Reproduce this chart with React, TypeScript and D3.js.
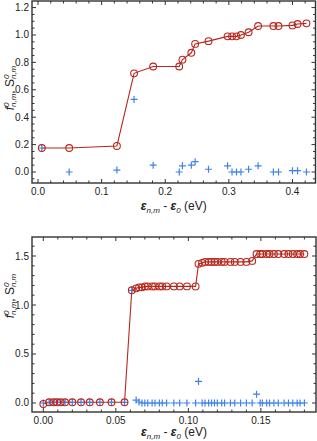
import React from 'react';
import * as d3 from 'd3';

const FONT = 'Liberation Sans, Arial, sans-serif';
const RED = '#b8261c';
const BLUE = '#3f82ea';

// top panel
const topE = [0.006, 0.049, 0.124, 0.151, 0.181, 0.222, 0.227, 0.241, 0.247, 0.268, 0.298, 0.305, 0.312, 0.319, 0.331, 0.346, 0.37, 0.378, 0.4, 0.408, 0.422];
const topF = [0.175, 0.175, 0.19, 0.72, 0.77, 0.77, 0.82, 0.87, 0.935, 0.955, 0.99, 0.99, 0.99, 1.0, 1.02, 1.065, 1.065, 1.065, 1.07, 1.08, 1.085];
const topS = [0.175, 0.0, 0.014, 0.53, 0.05, 0.0, 0.045, 0.05, 0.075, 0.02, 0.045, 0.0, 0.0, 0.0, 0.02, 0.045, 0.0, 0.0, 0.01, 0.01, 0.0];

// bottom panel
const botE = [
  0.0, 0.004, 0.007, 0.0095, 0.012, 0.015, 0.02, 0.026, 0.032, 0.039, 0.047, 0.056,
  0.061, 0.064, 0.066, 0.068, 0.07, 0.072, 0.075, 0.077, 0.08, 0.082, 0.085, 0.09, 0.094, 0.099, 0.105,
  0.107, 0.1095, 0.1115, 0.114, 0.116, 0.118, 0.12, 0.123, 0.125, 0.129, 0.132, 0.136, 0.14, 0.144,
  0.147, 0.1495, 0.151, 0.154, 0.156, 0.159, 0.162, 0.166, 0.169, 0.172, 0.175, 0.177, 0.18,
];
const botF = [
  -0.01, 0.007, 0.007, 0.007, 0.007, 0.007, 0.007, 0.007, 0.007, 0.007, 0.007, 0.007,
  1.15, 1.17, 1.18, 1.18, 1.19, 1.19, 1.19, 1.19, 1.19, 1.19, 1.19, 1.19, 1.19, 1.19, 1.19,
  1.42, 1.43, 1.44, 1.44, 1.44, 1.44, 1.44, 1.44, 1.44, 1.44, 1.44, 1.44, 1.44, 1.45,
  1.52, 1.52, 1.52, 1.52, 1.52, 1.52, 1.52, 1.52, 1.52, 1.52, 1.52, 1.52, 1.52,
];
const botS = [
  0.0, 0.007, 0.007, 0.007, 0.007, 0.007, 0.007, 0.007, 0.007, 0.007, 0.007, 0.007,
  1.15, 0.03, 0.01, 0.0, 0.0, 0.0, 0.0, 0.0, 0.0, 0.0, 0.0, 0.0, 0.0, 0.0, 0.0,
  0.22, 0.0, 0.0, 0.0, 0.0, 0.0, 0.0, 0.0, 0.0, 0.0, 0.0, 0.0, 0.0, 0.0,
  0.09, 0.0, 0.0, 0.0, 0.0, 0.0, 0.0, 0.0, 0.0, 0.0, 0.0, 0.0, 0.0,
];

const topXTicks = [0, 0.1, 0.2, 0.3, 0.4];
const topYTicks = [0, 0.2, 0.4, 0.6, 0.8, 1.0, 1.2];
const botXTicks = [0, 0.05, 0.1, 0.15];
const botYTicks = [0, 0.5, 1.0, 1.5];

type PanelProps = {
  box: { left: number; right: number; top: number; bottom: number };
  xDomain: [number, number];
  yDomain: [number, number];
  xTicks: number[];
  yTicks: number[];
  xMinor: number;
  yMinor: number;
  xFmt: (v: number) => string;
  yFmt: (v: number) => string;
  energy: number[];
  f: number[];
  s: number[];
  yLabelY: number;
  xLabelY: number;
};

const range = (a: number, b: number, step: number) => {
  const out: number[] = [];
  const n = Math.round((b - a) / step);
  for (let i = 0; i <= n; i++) out.push(a + i * step);
  return out;
};

const Panel = (p: PanelProps) => {
  const { box } = p;
  const x = d3.scaleLinear().domain(p.xDomain).range([box.left, box.right]);
  const y = d3.scaleLinear().domain(p.yDomain).range([box.bottom, box.top]);

  const xMinors = range(Math.ceil(p.xDomain[0] / p.xMinor) * p.xMinor, p.xDomain[1], p.xMinor)
    .filter((v) => v >= p.xDomain[0] && v <= p.xDomain[1]);
  const yMinors = range(Math.ceil(p.yDomain[0] / p.yMinor) * p.yMinor, p.yDomain[1], p.yMinor)
    .filter((v) => v >= p.yDomain[0] && v <= p.yDomain[1]);
  const isMajor = (v: number, ticks: number[]) => ticks.some((t) => Math.abs(t - v) < 1e-6);

  const line = d3
    .line<number>()
    .x((_, i) => x(p.energy[i]))
    .y((d) => y(d));

  const axisColor = '#333';
  const cx = (box.left + box.right) / 2;

  return (
    <g>
      <path d={line(p.f) ?? ''} fill="none" stroke={RED} strokeWidth={1.1} />
      {p.s.map((v, i) => (
        <path
          key={'s' + i}
          d={`M${x(p.energy[i]) - 3.5},${y(v)}h7M${x(p.energy[i])},${y(v) - 3.5}v7`}
          stroke={BLUE}
          strokeWidth={1.2}
        />
      ))}
      {p.f.map((v, i) => (
        <circle key={'f' + i} cx={x(p.energy[i])} cy={y(v)} r={3.4} fill="none" stroke={RED} strokeWidth={1.1} />
      ))}

      {/* ticks, pointing inward on all sides */}
      {xMinors.map((v, i) => {
        const len = isMajor(v, p.xTicks) ? 4 : 2.5;
        return (
          <g key={'xt' + i} stroke={axisColor} strokeWidth={1}>
            <line x1={x(v)} x2={x(v)} y1={box.bottom} y2={box.bottom - len} />
            <line x1={x(v)} x2={x(v)} y1={box.top} y2={box.top + len} />
          </g>
        );
      })}
      {yMinors.map((v, i) => {
        const len = isMajor(v, p.yTicks) ? 4 : 2.5;
        return (
          <g key={'yt' + i} stroke={axisColor} strokeWidth={1}>
            <line x1={box.left} x2={box.left + len} y1={y(v)} y2={y(v)} />
            <line x1={box.right} x2={box.right - len} y1={y(v)} y2={y(v)} />
          </g>
        );
      })}
      <rect
        x={box.left}
        y={box.top}
        width={box.right - box.left}
        height={box.bottom - box.top}
        fill="none"
        stroke={axisColor}
        strokeWidth={1.4}
      />

      {p.xTicks.map((v) => (
        <text key={'xl' + v} x={x(v)} y={box.bottom + 12} textAnchor="middle" fontSize={10} fill="#222">
          {p.xFmt(v)}
        </text>
      ))}
      {p.yTicks.map((v) => (
        <text key={'yl' + v} x={box.left - 3} y={y(v) + 3.5} textAnchor="end" fontSize={10} fill="#222">
          {p.yFmt(v)}
        </text>
      ))}

      <text transform={`translate(13.5,${p.yLabelY}) rotate(-90)`} textAnchor="middle" fontSize={12} fill="#222">
        <tspan fontStyle="italic">f</tspan>
        <tspan fontSize={8} fontStyle="italic" dy={-5}>0</tspan>
        <tspan fontSize={8} fontStyle="italic" dx={-4.5} dy={7.5}>n,m</tspan>
        <tspan dy={-2.5}>, S</tspan>
        <tspan fontSize={8} fontStyle="italic" dy={-5}>0</tspan>
        <tspan fontSize={8} fontStyle="italic" dx={-4.5} dy={7.5}>n,m</tspan>
      </text>

      <text x={cx} y={p.xLabelY} textAnchor="middle" fontSize={12} fill="#222">
        <tspan fontWeight="bold" fontStyle="italic">ε</tspan>
        <tspan fontSize={8} fontStyle="italic" dy={3}>n,m</tspan>
        <tspan dy={-3}> - </tspan>
        <tspan fontWeight="bold" fontStyle="italic">ε</tspan>
        <tspan fontSize={8} fontStyle="italic" dy={3}>0</tspan>
        <tspan dy={-3}>  (eV)</tspan>
      </text>
    </g>
  );
};

export default function App() {
  return (
    <svg
      width={317}
      height={441}
      style={{ position: 'absolute', left: 0, top: 0, background: '#fff', fontFamily: FONT }}
    >
      <Panel
        box={{ left: 32, right: 315.5, top: 1, bottom: 183 }}
        xDomain={[-0.00945, 0.4362]}
        yDomain={[-0.0803, 1.248]}
        xTicks={topXTicks}
        yTicks={topYTicks}
        xMinor={0.02}
        yMinor={0.05}
        xFmt={d3.format('.1f')}
        yFmt={d3.format('.1f')}
        energy={topE}
        f={topF}
        s={topS}
        yLabelY={88}
        xLabelY={210}
      />
      <Panel
        box={{ left: 32, right: 316, top: 237, bottom: 412 }}
        xDomain={[-0.0078, 0.188]}
        yDomain={[-0.092, 1.694]}
        xTicks={botXTicks}
        yTicks={botYTicks}
        xMinor={0.01}
        yMinor={0.1}
        xFmt={d3.format('.2f')}
        yFmt={d3.format('.1f')}
        energy={botE}
        f={botF}
        s={botS}
        yLabelY={296}
        xLabelY={436}
      />
    </svg>
  );
}
